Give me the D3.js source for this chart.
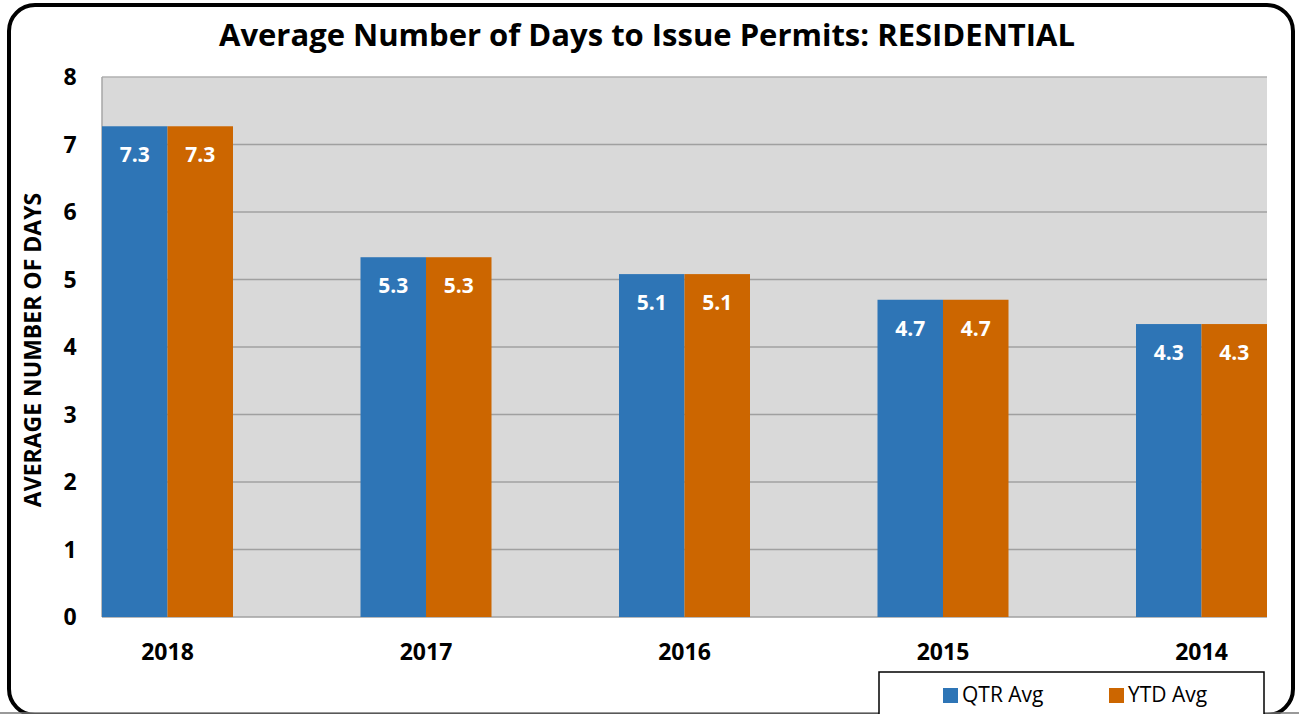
<!DOCTYPE html>
<html><head><meta charset="utf-8">
<script src="https://cdn.jsdelivr.net/npm/d3@7"></script>
<style>
html,body{margin:0;padding:0;background:#fff;}
svg{display:block;font-family:"Open Sans","Noto Sans",sans-serif;}
</style></head>
<body><svg id="c" width="1299" height="714"></svg>
<script>
const categories = ["2018","2017","2016","2015","2014"];
const qtrAvg = [7.27, 5.33, 5.08, 4.70, 4.34];
const ytdAvg = [7.27, 5.33, 5.08, 4.70, 4.34];
const seriesNames = ["QTR Avg","YTD Avg"];
const yTicks = [0,1,2,3,4,5,6,7,8];
const colors = ["#2e75b6","#cc6600"];

const svg = d3.select("#c");
const W = 1299, H = 714;
const plot = {left:102, right:1267, top:77, bottom:617};
const half = 65.5;

// outer rounded frame
svg.append("rect").attr("x",9).attr("y",5).attr("width",1284).attr("height",710)
  .attr("rx",26).attr("ry",26).attr("fill","#fff").attr("stroke","#000").attr("stroke-width",4);
svg.append("line").attr("x1",0).attr("x2",W).attr("y1",713).attr("y2",713).attr("stroke","#777").attr("stroke-width",1.5);

const x = d3.scalePoint().domain(categories).range([plot.left+half, plot.right-half]);
const xs = d3.scaleBand().domain(seriesNames).range([-half, half]);
const y = d3.scaleLinear().domain([0,8]).range([plot.bottom, plot.top]);

svg.append("rect").attr("x",plot.left).attr("y",plot.top).attr("width",plot.right-plot.left)
  .attr("height",plot.bottom-plot.top).attr("fill","#d9d9d9");

// gridlines
svg.append("g").selectAll("line").data(yTicks).join("line")
  .attr("x1",plot.left).attr("x2",plot.right).attr("y1",d=>y(d)).attr("y2",d=>y(d))
  .attr("stroke",(d)=>d===8?"#b0b0b0":"#a0a0a0").attr("stroke-width",1.5);
svg.append("line").attr("x1",plot.left).attr("x2",plot.left).attr("y1",plot.top).attr("y2",plot.bottom)
  .attr("stroke","#a6a6a6").attr("stroke-width",1.5);

const data = categories.map((c,i)=>({c, vals:[qtrAvg[i], ytdAvg[i]]}));
const g = svg.append("g").selectAll("g").data(data).join("g")
  .attr("transform",d=>`translate(${x(d.c)},0)`);
g.selectAll("rect").data(d=>d.vals.map((v,j)=>({v,s:seriesNames[j],j}))).join("rect")
  .attr("x",d=>xs(d.s)).attr("width",xs.bandwidth()).attr("y",d=>y(d.v)).attr("height",d=>y(0)-y(d.v))
  .attr("fill",d=>colors[d.j]);
g.selectAll("text").data(d=>d.vals.map((v,j)=>({v,s:seriesNames[j],j}))).join("text")
  .attr("x",d=>xs(d.s)+xs.bandwidth()/2).attr("y",d=>y(d.v)+36)
  .attr("text-anchor","middle").attr("fill","#fff").attr("font-weight","bold").attr("font-size",21)
  .text(d=>d3.format(".1f")(d.v));

// y tick labels
svg.append("g").selectAll("text").data(yTicks).join("text")
  .attr("x",70).attr("y",d=>y(d)+8).attr("text-anchor","middle")
  .attr("font-weight","bold").attr("font-size",23).text(d=>d);

// x labels
svg.append("g").selectAll("text").data(categories).join("text")
  .attr("x",d=>x(d)).attr("y",660).attr("text-anchor","middle")
  .attr("font-weight","bold").attr("font-size",23).text(d=>d);

// title
svg.append("text").attr("x",647).attr("y",46).attr("text-anchor","middle")
  .attr("font-weight","bold").attr("font-size",31).text("Average Number of Days to Issue Permits: RESIDENTIAL");

// y axis title
svg.append("text").attr("transform","translate(41,350) rotate(-90)").attr("text-anchor","middle")
  .attr("font-weight","bold").attr("font-size",23).text("AVERAGE NUMBER OF DAYS");

// legend
svg.append("rect").attr("x",879).attr("y",672).attr("width",385).attr("height",48)
  .attr("fill","#fff").attr("stroke","#000").attr("stroke-width",1.5);
const lx = [943, 1109];
const lg = svg.append("g").selectAll("g").data(seriesNames).join("g")
  .attr("transform",(d,i)=>`translate(${lx[i]},688)`);
lg.append("rect").attr("width",15).attr("height",15).attr("fill",(d,i)=>colors[i]);
lg.append("text").attr("x",19).attr("y",14).attr("font-size",21).text(d=>d);
</script></body></html>
